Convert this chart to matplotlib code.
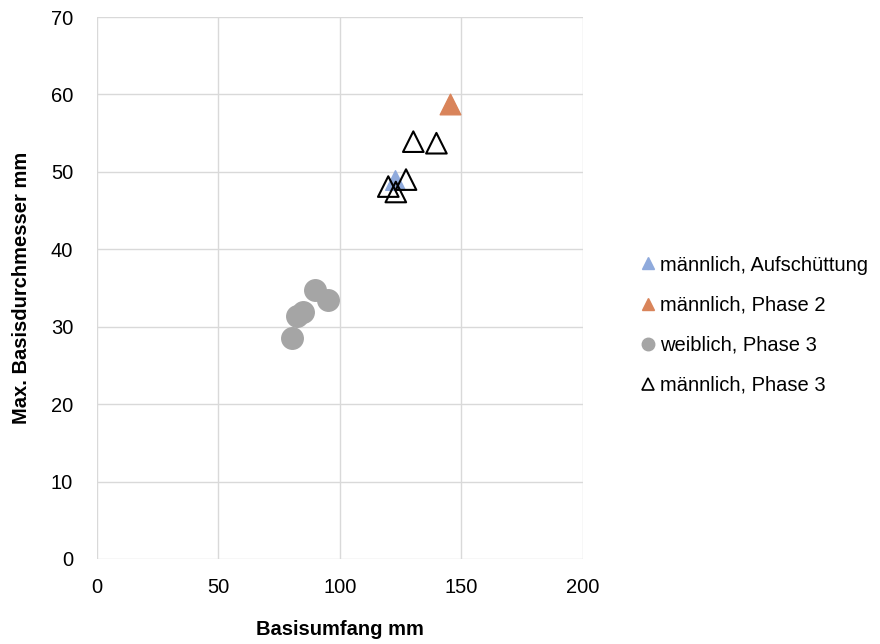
import matplotlib
matplotlib.use("Agg")
import matplotlib.pyplot as plt
from matplotlib.lines import Line2D

plt.rcParams['font.family'] = ['Liberation Sans', 'DejaVu Sans']

# data
aufsch_x = [122.6]
aufsch_y = [48.9]

phase2_x = [145.3]
phase2_y = [58.8]

weib3_x = [89.7, 95.2, 84.9, 82.2, 80.1]
weib3_y = [34.7, 33.5, 31.9, 31.4, 28.5]

maenn3_x = [130.2, 139.7, 127.2, 119.9, 123.0]
maenn3_y = [53.9, 53.7, 49.0, 48.1, 47.4]

labels = ['männlich, Aufschüttung', 'männlich, Phase 2',
          'weiblich, Phase 3', 'männlich, Phase 3']

fs = 14.5

fig = plt.figure(figsize=(8.8, 6.44), dpi=100)
ax = fig.add_axes([0.110, 0.132, 0.5525, 0.8416])

ax.scatter(aufsch_x, aufsch_y, marker='^', s=200, color='#8faadc', zorder=3)
ax.scatter(phase2_x, phase2_y, marker='^', s=220, color='#d9845a', zorder=3)
ax.scatter(weib3_x, weib3_y, marker='o', s=240, color='#a5a5a5', zorder=3)
ax.scatter(maenn3_x, maenn3_y, marker='^', s=220, facecolor='none',
           edgecolor='black', linewidth=1.5, zorder=4)

ax.set_xlim(0, 200)
ax.set_ylim(0, 70)
ax.set_xticks(range(0, 201, 50))
ax.set_yticks(range(0, 71, 10))
ax.grid(True, color='#d9d9d9', linewidth=1)
ax.set_axisbelow(True)
for s in ax.spines.values():
    s.set_visible(False)
ax.tick_params(axis='y', length=0, labelsize=fs, colors='black', pad=17)
ax.tick_params(axis='x', length=0, labelsize=fs, colors='black', pad=14)

ax.set_xlabel('Basisumfang mm', fontsize=fs, fontweight='bold', labelpad=16)
ax.set_ylabel('Max. Basisdurchmesser mm', fontsize=fs, fontweight='bold', labelpad=14)

handles = [
    Line2D([], [], linestyle='none', marker='^', markersize=9, color='#8faadc'),
    Line2D([], [], linestyle='none', marker='^', markersize=9, color='#d9845a'),
    Line2D([], [], linestyle='none', marker='o', markersize=9, color='#a5a5a5'),
    Line2D([], [], linestyle='none', marker='^', markersize=9, markerfacecolor='none',
           markeredgecolor='black', markeredgewidth=1.2),
]
fig.legend(handles, labels, loc='center left', bbox_to_anchor=(0.702, 0.495),
           frameon=False, fontsize=fs, handletextpad=0.0, labelspacing=1.05,
           handlelength=1.2)

fig.savefig('out.png', dpi=100)
